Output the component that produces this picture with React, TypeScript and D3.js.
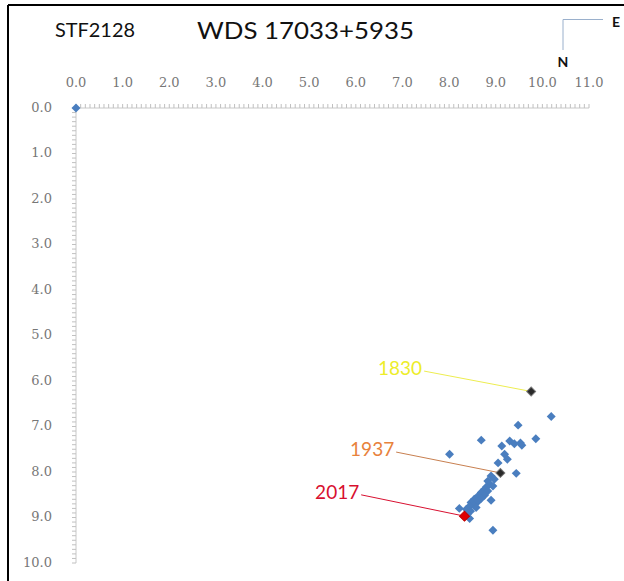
import React from "react";
import * as d3 from "d3";

// Blue series: measured positions (x, y in arcsec)
const obsX = [0.0, 10.19, 9.48, 8.69, 9.86, 9.30, 9.40, 9.53, 9.56, 9.13, 8.01, 9.19, 9.25, 9.05, 9.44, 8.90, 8.90, 8.22, 8.94,
  8.83, 8.87, 8.94, 8.80, 8.76, 8.83, 8.69, 8.76, 8.62, 8.69, 8.54, 8.62, 8.47, 8.53, 8.44, 8.58, 8.37, 8.46, 8.40, 8.44, 8.97];
const obsY = [0.0, 6.78, 6.97, 7.30, 7.27, 7.32, 7.38, 7.36, 7.41, 7.43, 7.61, 7.61, 7.72, 7.80, 8.03, 8.09, 8.62, 8.80, 9.28,
  8.20, 8.27, 8.31, 8.33, 8.38, 8.42, 8.45, 8.51, 8.53, 8.58, 8.60, 8.65, 8.67, 8.73, 8.75, 8.78, 8.82, 8.86, 8.92, 9.02, 8.16];

// Highlighted epochs
const epochLabels = ["1830", "1937", "2017"];
const epochX = [9.76, 9.10, 8.33];
const epochY = [6.23, 8.02, 8.97];
// label anchor positions in data units
const epochLabelX = [6.95, 6.35, 5.6];
const epochLabelY = [5.76, 7.54, 8.48];

const xTicks = d3.range(0, 12, 1);
const yTicks = d3.range(0, 11, 1);
const minorX = d3.range(0, 110.5, 1).map((d) => d / 10);
const minorY = d3.range(0, 100.5, 1).map((d) => d / 10);

export default function App() {
  const W = 624;
  const H = 581;
  const x = d3.scaleLinear().domain([0, 11]).range([76, 589]);
  const y = d3.scaleLinear().domain([0, 10]).range([108, 563]);
  const diamond = d3.symbol().type(d3.symbolSquare).size(40)();
  const diamondBig = d3.symbol().type(d3.symbolSquare).size(50)();
  const labelColors = ["#eded2a", "#e8823c", "#d81030"];
  const lineColors = ["#eded50", "#c88050", "#d81030"];
  const markerFill = ["#2a2a2a", "#2a2a2a", "#e00000"];
  const tickFont = "'DejaVu Serif', serif";
  const sans = "Lato, 'Open Sans', sans-serif";

  return (
    <svg width={W} height={H} style={{ position: "absolute", left: 0, top: 0, background: "#fff" }}>
      <rect x={0} y={0} width={W} height={H} fill="#fff" />
      {/* frame */}
      <line x1={8} y1={5} x2={W} y2={5} stroke="#000" strokeWidth={2} />
      <line x1={8} y1={5} x2={8} y2={H} stroke="#000" strokeWidth={2} />

      {/* titles */}
      <text x={55} y={37} fontFamily={sans} fontSize={18.5} fill="#111" textLength={80} lengthAdjust="spacingAndGlyphs">STF2128</text>
      <text x={197} y={39} fontFamily={sans} fontSize={24} fill="#111" textLength={217} lengthAdjust="spacingAndGlyphs">WDS 17033+5935</text>

      {/* compass */}
      <line x1={563} y1={19.5} x2={603} y2={19.5} stroke="#9ab0cc" strokeWidth={1} />
      <line x1={563} y1={19.5} x2={563} y2={50} stroke="#9ab0cc" strokeWidth={1} />
      <text x={616} y={23} textAnchor="middle" dominantBaseline="middle" fontFamily={sans} fontWeight="bold" fontSize={14} fill="#111">E</text>
      <text x={563} y={63} textAnchor="middle" dominantBaseline="middle" fontFamily={sans} fontWeight="bold" fontSize={14} fill="#111">N</text>

      {/* x axis */}
      <line x1={x(0)} y1={y(0)} x2={x(11)} y2={y(0)} stroke="#c8c8c8" strokeWidth={1} />
      {minorX.map((t, i) => (
        <line key={"mx" + i} x1={x(t)} x2={x(t)} y1={y(0) - 4} y2={y(0)} stroke="#c0c0c0" strokeWidth={1} />
      ))}
      {xTicks.map((t) => (
        <text key={"xt" + t} x={x(t)} y={87} textAnchor="middle" fontFamily={tickFont} fontSize={13} fill="#777">
          {t.toFixed(1)}
        </text>
      ))}

      {/* y axis */}
      <line x1={x(0)} y1={y(0)} x2={x(0)} y2={y(10)} stroke="#c8c8c8" strokeWidth={1} />
      {minorY.map((t, i) => (
        <line key={"my" + i} x1={x(0) - 4} x2={x(0)} y1={y(t)} y2={y(t)} stroke="#c0c0c0" strokeWidth={1} />
      ))}
      {yTicks.map((t) => (
        <text key={"yt" + t} x={52} y={y(t)} textAnchor="end" dominantBaseline="middle" fontFamily={tickFont} fontSize={13} fill="#777">
          {t.toFixed(1)}
        </text>
      ))}

      {/* observations */}
      {obsX.map((d, i) => (
        <path key={"o" + i} d={diamond} transform={`translate(${x(d)},${y(obsY[i])}) rotate(45)`} fill="#4a7ebf" />
      ))}

      {/* epochs */}
      {epochLabels.map((lab, i) => (
        <g key={lab}>
          <line x1={x(epochLabelX[i]) + 24} y1={y(epochLabelY[i]) + 1} x2={x(epochX[i])} y2={y(epochY[i])} stroke={lineColors[i]} strokeWidth={1} />
          <text x={x(epochLabelX[i])} y={y(epochLabelY[i])} textAnchor="middle" dominantBaseline="middle" fontFamily={sans} fontSize={19} fill={labelColors[i]}>
            {lab}
          </text>
          <path d={i === 2 ? diamondBig : diamond} transform={`translate(${x(epochX[i])},${y(epochY[i])}) rotate(45)`} fill={markerFill[i]} stroke={i === 2 ? "#c00000" : "#777"} strokeWidth={1} />
        </g>
      ))}
    </svg>
  );
}
